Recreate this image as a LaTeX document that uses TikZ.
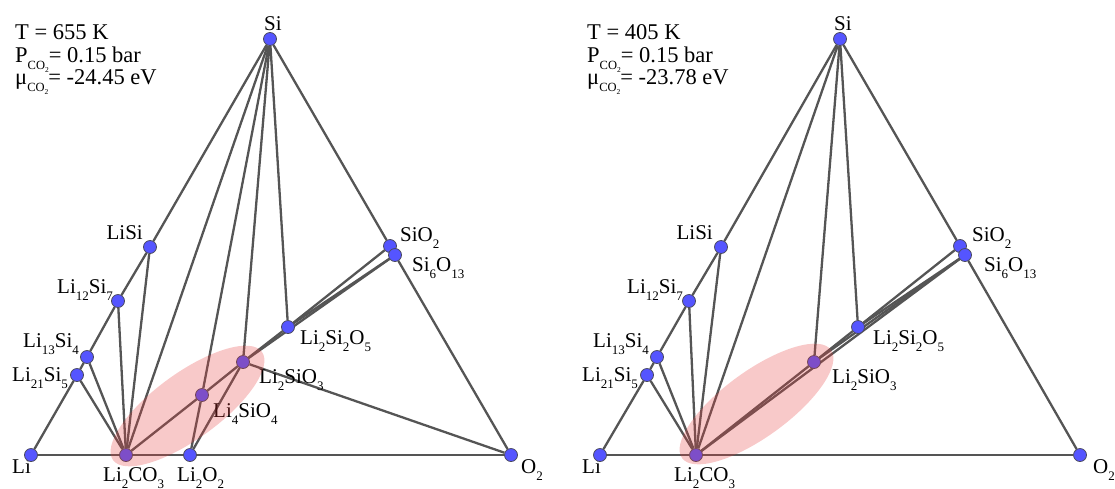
\documentclass[tikz,border=0pt]{standalone}
\usepackage{fontspec}
\setmainfont{Liberation Serif}
\pgfdeclarelayer{bg}\pgfdeclarelayer{fg}\pgfsetlayers{bg,main,fg}
\definecolor{edgegray}{RGB}{85,85,85}
\definecolor{dotblue}{RGB}{85,85,255}
\definecolor{dotrim}{RGB}{75,75,95}
\definecolor{hullred}{RGB}{230,60,60}
\newcommand\sbs[1]{\raisebox{-0.36em}{\fontsize{13}{13}\selectfont #1}}
\newcommand\cotwo{\raisebox{-0.34em}{\fontsize{12.5}{12.5}\selectfont CO\raisebox{-0.25em}{\fontsize{7.5}{7.5}\selectfont 2}}}
\begin{document}
\begin{tikzpicture}[x=1pt,y=-1pt,
  dot/.style={circle,draw=dotrim,line width=0.8pt,fill=dotblue,minimum size=13pt,inner sep=0pt},
  tie/.style={draw=edgegray,line width=2.3pt},
  lab/.style={anchor=base west,inner sep=0pt,font=\fontsize{21}{22}\selectfont},
  labr/.style={anchor=base east,inner sep=0pt,font=\fontsize{21}{22}\selectfont},
  info/.style={anchor=base west,inner sep=0pt,font=\fontsize{22.5}{24}\selectfont},
  hull/.style={fill=hullred,fill opacity=0.28}]
\useasboundingbox (0,0) rectangle (1115,488);
% ---------------- left panel ----------------
\node[info] (tT) at (15,39) {T = 655 K};
\node[info] (tP) at (15,62) {P\cotwo= 0.15 bar};
\node[info] (tMu) at (15,84) {μ\cotwo= -24.45 eV};
\node[lab] (tSi) at (264,30) {Si};
\node[labr] (tLiSi) at (143,239) {LiSi};
\node[lab] (tL12) at (57,293) {Li\sbs{12}Si\sbs{7}};
\node[lab] (tL13) at (23,347) {Li\sbs{13}Si\sbs{4}};
\node[lab] (tL21) at (12,381) {Li\sbs{21}Si\sbs{5}};
\node[lab] (tLi) at (12,473) {Li};
\node[lab] (tLCO) at (103,481) {Li\sbs{2}CO\sbs{3}};
\node[lab] (tLOO) at (177,481) {Li\sbs{2}O\sbs{2}};
\node[lab] (tL4) at (213,417) {Li\sbs{4}SiO\sbs{4}};
\node[lab] (tL2S) at (259,383) {Li\sbs{2}SiO\sbs{3}};
\node[lab] (tL2S2) at (300,344) {Li\sbs{2}Si\sbs{2}O\sbs{5}};
\node[lab] (tSiO) at (400,241) {SiO\sbs{2}};
\node[lab] (tSi6) at (412,271) {Si\sbs{6}O\sbs{13}};
\node[lab] (tO) at (521,473) {O\sbs{2}};

\node[dot] (Si) at (270,39) {};
\node[dot] (Li) at (31,455) {};
\node[dot] (O) at (511,455) {};
\node[dot] (LCO) at (126,455) {};
\node[dot] (LOO) at (190,455) {};
\node[dot] (LiSi) at (150,247) {};
\node[dot] (L12) at (118,301) {};
\node[dot] (L13) at (87,357) {};
\node[dot] (L21) at (77,375) {};
\node[dot] (L4) at (202,395) {};
\node[dot] (L2S) at (243,362) {};
\node[dot] (L2S2) at (288,327) {};
\node[dot] (SiO) at (390,246) {};
\node[dot] (Si6) at (395,255) {};

\begin{pgfonlayer}{bg}
\draw[tie] (Li) -- (L21) -- (L13) -- (L12) -- (LiSi) -- (Si);
\draw[tie] (Si) -- (SiO) -- (Si6) -- (O);
\draw[tie] (Li) -- (LCO) -- (LOO) -- (O);
\draw[tie] (LCO) -- (L21);
\draw[tie] (LCO) -- (L13);
\draw[tie] (LCO) -- (L12);
\draw[tie] (LCO) -- (LiSi);
\draw[tie] (LCO) -- (Si);
\draw[tie] (LCO) -- (L4) -- (L2S);
\draw[tie] (L4) -- (Si);
\draw[tie] (L4) -- (LOO);
\draw[tie] (LOO) -- (L2S);
\draw[tie] (L2S) -- (Si);
\draw[tie] (L2S) -- (O);
\draw[tie] (L2S) -- (L2S2);
\draw[tie] (L2S) -- (Si6);
\draw[tie] (L2S2) -- (Si);
\draw[tie] (L2S2) -- (SiO);
\draw[tie] (L2S2) -- (Si6);
\end{pgfonlayer}
\begin{pgfonlayer}{fg}
\fill[hull,shift={(187.5,406)},rotate=36] (0,0) ellipse [x radius=92, y radius=33];
\end{pgfonlayer}

% ---------------- right panel ----------------
\begin{scope}[xshift=570pt]
\node[info] (rtT) at (17,39) {T = 405 K};
\node[info] (rtP) at (17,62) {P\cotwo= 0.15 bar};
\node[info] (rtMu) at (17,84) {μ\cotwo= -23.78 eV};
\node[lab] (rtSi) at (264,30) {Si};
\node[labr] (rtLiSi) at (143,239) {LiSi};
\node[lab] (rtL12) at (57,293) {Li\sbs{12}Si\sbs{7}};
\node[lab] (rtL13) at (23,347) {Li\sbs{13}Si\sbs{4}};
\node[lab] (rtL21) at (12,381) {Li\sbs{21}Si\sbs{5}};
\node[lab] (rtLi) at (12,473) {Li};
\node[lab] (rtLCO) at (104,481) {Li\sbs{2}CO\sbs{3}};
\node[lab] (rtL2S) at (262,383) {Li\sbs{2}SiO\sbs{3}};
\node[lab] (rtL2S2) at (303,344) {Li\sbs{2}Si\sbs{2}O\sbs{5}};
\node[lab] (rtSiO) at (402,241) {SiO\sbs{2}};
\node[lab] (rtSi6) at (414,271) {Si\sbs{6}O\sbs{13}};
\node[lab] (rtO) at (523,473) {O\sbs{2}};

\node[dot] (rSi) at (270,39) {};
\node[dot] (rLi) at (30,455) {};
\node[dot] (rO) at (510,455) {};
\node[dot] (rLCO) at (126,455) {};
\node[dot] (rLiSi) at (151,247) {};
\node[dot] (rL12) at (119,301) {};
\node[dot] (rL13) at (87,357) {};
\node[dot] (rL21) at (77,375) {};
\node[dot] (rL2S) at (244,362) {};
\node[dot] (rL2S2) at (288,327) {};
\node[dot] (rSiO) at (390,246) {};
\node[dot] (rSi6) at (395,255) {};

\begin{pgfonlayer}{bg}
\draw[tie] (rLi) -- (rL21) -- (rL13) -- (rL12) -- (rLiSi) -- (rSi);
\draw[tie] (rSi) -- (rSiO) -- (rSi6) -- (rO);
\draw[tie] (rLi) -- (rLCO) -- (rO);
\draw[tie] (rLCO) -- (rL21);
\draw[tie] (rLCO) -- (rL13);
\draw[tie] (rLCO) -- (rL12);
\draw[tie] (rLCO) -- (rLiSi);
\draw[tie] (rLCO) -- (rSi);
\draw[tie] (rLCO) -- (rL2S);
\draw[tie] (rLCO) -- (rSi6);
\draw[tie] (rL2S) -- (rSi);
\draw[tie] (rL2S) -- (rL2S2);
\draw[tie] (rL2S) -- (rSi6);
\draw[tie] (rL2S2) -- (rSi);
\draw[tie] (rL2S2) -- (rSiO);
\draw[tie] (rL2S2) -- (rSi6);
\end{pgfonlayer}
\begin{pgfonlayer}{fg}
\fill[hull,shift={(186.5,404)},rotate=36] (0,0) ellipse [x radius=92, y radius=33];
\end{pgfonlayer}
\end{scope}
\end{tikzpicture}
\end{document}
